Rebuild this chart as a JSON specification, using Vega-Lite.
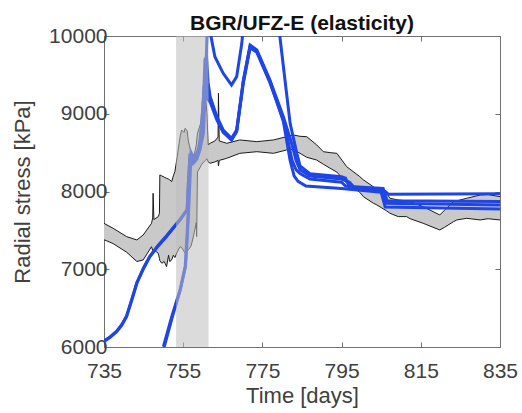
{
  "$schema": "https://vega.github.io/schema/vega-lite/v6.json",
  "width": 396,
  "height": 311,
  "autosize": "none",
  "padding": {"left": 104, "top": 36, "right": 22, "bottom": 66},
  "background": "white",
  "title": {"text": "BGR/UFZ-E (elasticity)", "font": "Liberation Sans", "fontSize": 21, "fontWeight": "bold", "color": "#111111", "offset": -9, "anchor": "middle"},
  "config": {
    "view": {"stroke": "#707070", "strokeWidth": 1},
    "axis": {
      "grid": false,
      "domain": false,
      "tickColor": "#707070",
      "tickSize": -5,
      "labelFlush": false,
      "labelOverlap": false,
      "labelFont": "Liberation Sans",
      "labelFontSize": 21,
      "labelColor": "#404040",
      "titleFont": "Liberation Sans",
      "titleFontSize": 22,
      "titleFontWeight": "normal",
      "titleColor": "#404040"
    }
  },
  "datasets": {
    "env": [
      {"t": 735, "lo": 7380, "hi": 7590},
      {"t": 737.3, "lo": 7330, "hi": 7527},
      {"t": 740.7, "lo": 7220, "hi": 7420},
      {"t": 743.3, "lo": 7100, "hi": 7377},
      {"t": 744.9, "lo": 7120, "hi": 7441},
      {"t": 747.0, "lo": 7290, "hi": 7591},
      {"t": 747.3, "lo": 7240, "hi": 7660},
      {"t": 747.4, "lo": 7240, "hi": 7977},
      {"t": 747.6, "lo": 7250, "hi": 7640},
      {"t": 748.7, "lo": 7205, "hi": 7677},
      {"t": 749.0, "lo": 7140, "hi": 7720},
      {"t": 749.1, "lo": 7110, "hi": 8213},
      {"t": 749.6, "lo": 7077, "hi": 8200},
      {"t": 750.2, "lo": 7100, "hi": 8185},
      {"t": 750.8, "lo": 7033, "hi": 8170},
      {"t": 751.3, "lo": 7180, "hi": 8160},
      {"t": 751.6, "lo": 7100, "hi": 8150},
      {"t": 752.1, "lo": 7120, "hi": 8127},
      {"t": 752.5, "lo": 7180, "hi": 8200},
      {"t": 752.9, "lo": 7150, "hi": 8255},
      {"t": 753.5, "lo": 7220, "hi": 8450},
      {"t": 754.2, "lo": 7290, "hi": 8700},
      {"t": 754.6, "lo": 7280, "hi": 8791},
      {"t": 755.2, "lo": 7230, "hi": 8760},
      {"t": 755.5, "lo": 7205, "hi": 8813},
      {"t": 756.0, "lo": 7230, "hi": 8780},
      {"t": 756.3, "lo": 7250, "hi": 8650},
      {"t": 757.0, "lo": 7300, "hi": 8500},
      {"t": 757.7, "lo": 7450, "hi": 8450},
      {"t": 758.3, "lo": 7600, "hi": 8600},
      {"t": 758.4, "lo": 7420, "hi": 8650},
      {"t": 758.6, "lo": 8250, "hi": 8749},
      {"t": 759.7, "lo": 8350, "hi": 8920},
      {"t": 760.2, "lo": 8380, "hi": 9100},
      {"t": 760.6, "lo": 8400, "hi": 9250},
      {"t": 761.0, "lo": 8420, "hi": 9000},
      {"t": 761.3, "lo": 8380, "hi": 8600},
      {"t": 761.8, "lo": 8363, "hi": 8620},
      {"t": 763.0, "lo": 8380, "hi": 8650},
      {"t": 763.8, "lo": 8400, "hi": 8700},
      {"t": 763.9, "lo": 8330, "hi": 9263},
      {"t": 764.1, "lo": 8400, "hi": 8650},
      {"t": 766.0, "lo": 8427, "hi": 8620},
      {"t": 769.3, "lo": 8491, "hi": 8663},
      {"t": 773.6, "lo": 8512, "hi": 8641},
      {"t": 777.8, "lo": 8491, "hi": 8663},
      {"t": 781.1, "lo": 8534, "hi": 8705},
      {"t": 782.8, "lo": 8540, "hi": 8727},
      {"t": 784.5, "lo": 8491, "hi": 8710},
      {"t": 786.2, "lo": 8440, "hi": 8705},
      {"t": 788.7, "lo": 8405, "hi": 8600},
      {"t": 790.4, "lo": 8350, "hi": 8512},
      {"t": 792.1, "lo": 8299, "hi": 8500},
      {"t": 793.8, "lo": 8250, "hi": 8491},
      {"t": 796.3, "lo": 8106, "hi": 8319},
      {"t": 799.6, "lo": 7990, "hi": 8191},
      {"t": 800.5, "lo": 7934, "hi": 8150},
      {"t": 803.0, "lo": 7850, "hi": 8062},
      {"t": 803.9, "lo": 7827, "hi": 8030},
      {"t": 806.4, "lo": 7750, "hi": 7977},
      {"t": 807.2, "lo": 7720, "hi": 7913},
      {"t": 809.3, "lo": 7677, "hi": 7891},
      {"t": 811.4, "lo": 7677, "hi": 7880},
      {"t": 812.3, "lo": 7650, "hi": 7869},
      {"t": 815.6, "lo": 7591, "hi": 7805},
      {"t": 819.8, "lo": 7505, "hi": 7698},
      {"t": 821.0, "lo": 7540, "hi": 7760},
      {"t": 823.2, "lo": 7610, "hi": 7869},
      {"t": 824.1, "lo": 7634, "hi": 7880},
      {"t": 826.6, "lo": 7655, "hi": 7913},
      {"t": 830.0, "lo": 7634, "hi": 7955},
      {"t": 832.0, "lo": 7650, "hi": 7960},
      {"t": 835.0, "lo": 7634, "hi": 7934}
    ],
    "sim": [
      {"id": "1", "t": 735, "v": 6070},
      {"id": "1", "t": 736.5, "v": 6120},
      {"id": "1", "t": 738.2, "v": 6197},
      {"id": "1", "t": 739.5, "v": 6280},
      {"id": "1", "t": 740.7, "v": 6390},
      {"id": "1", "t": 742.0, "v": 6600},
      {"id": "1", "t": 743.3, "v": 6820},
      {"id": "1", "t": 745.0, "v": 7010},
      {"id": "1", "t": 746.6, "v": 7162},
      {"id": "1", "t": 748.7, "v": 7300},
      {"id": "1", "t": 750.8, "v": 7420},
      {"id": "1", "t": 754.2, "v": 7634},
      {"id": "1", "t": 756.0, "v": 7762},
      {"id": "1", "t": 756.3, "v": 8106},
      {"id": "1", "t": 756.7, "v": 8448},
      {"id": "1", "t": 758.0, "v": 8470},
      {"id": "1", "t": 759.2, "v": 8534},
      {"id": "1", "t": 760.1, "v": 8749},
      {"id": "1", "t": 760.5, "v": 9200},
      {"id": "1", "t": 761.0, "v": 10000},
      {"id": "1", "t": 761.3, "v": 10300},
      {"id": "1", "t": 761.7, "v": 10300},
      {"id": "1", "t": 762.0, "v": 10000},
      {"id": "1", "t": 763.0, "v": 9734},
      {"id": "1", "t": 765.1, "v": 9520},
      {"id": "1", "t": 767.2, "v": 9370},
      {"id": "1", "t": 768.5, "v": 9477},
      {"id": "1", "t": 769.8, "v": 9906},
      {"id": "1", "t": 770.5, "v": 10300},
      {"id": "1", "t": 775.0, "v": 11300},
      {"id": "1", "t": 779.0, "v": 10300},
      {"id": "1", "t": 779.4, "v": 10000},
      {"id": "1", "t": 780.7, "v": 9434},
      {"id": "1", "t": 782.0, "v": 8877},
      {"id": "1", "t": 783.7, "v": 8491},
      {"id": "1", "t": 784.5, "v": 8330},
      {"id": "1", "t": 787.0, "v": 8230},
      {"id": "1", "t": 795.0, "v": 8190},
      {"id": "1", "t": 796.0, "v": 8170},
      {"id": "1", "t": 797.0, "v": 8050},
      {"id": "1", "t": 806.0, "v": 8000},
      {"id": "1", "t": 806.8, "v": 7965},
      {"id": "1", "t": 835.0, "v": 7970},
      {"id": "2", "t": 735, "v": 6080},
      {"id": "2", "t": 736.5, "v": 6130},
      {"id": "2", "t": 738.2, "v": 6205},
      {"id": "2", "t": 739.5, "v": 6290},
      {"id": "2", "t": 740.7, "v": 6400},
      {"id": "2", "t": 742.0, "v": 6610},
      {"id": "2", "t": 743.3, "v": 6830},
      {"id": "2", "t": 745.0, "v": 7020},
      {"id": "2", "t": 746.6, "v": 7170},
      {"id": "2", "t": 748.7, "v": 7310},
      {"id": "2", "t": 750.8, "v": 7430},
      {"id": "2", "t": 754.2, "v": 7640},
      {"id": "2", "t": 756.0, "v": 7770},
      {"id": "2", "t": 756.3, "v": 8106},
      {"id": "2", "t": 756.7, "v": 8448},
      {"id": "2", "t": 757.5, "v": 8360},
      {"id": "2", "t": 758.5, "v": 8420},
      {"id": "2", "t": 759.2, "v": 8550},
      {"id": "2", "t": 760.0, "v": 9000},
      {"id": "2", "t": 760.5, "v": 9700},
      {"id": "2", "t": 760.9, "v": 9730},
      {"id": "2", "t": 761.3, "v": 9400},
      {"id": "2", "t": 761.8, "v": 9220},
      {"id": "2", "t": 763.5, "v": 8962},
      {"id": "2", "t": 765.1, "v": 8791},
      {"id": "2", "t": 767.2, "v": 8684},
      {"id": "2", "t": 768.5, "v": 8791},
      {"id": "2", "t": 770.2, "v": 9434},
      {"id": "2", "t": 771.9, "v": 9884},
      {"id": "2", "t": 773.6, "v": 9820},
      {"id": "2", "t": 776.9, "v": 9434},
      {"id": "2", "t": 780.3, "v": 8962},
      {"id": "2", "t": 782.5, "v": 8600},
      {"id": "2", "t": 783.5, "v": 8400},
      {"id": "2", "t": 784.5, "v": 8280},
      {"id": "2", "t": 787.0, "v": 8200},
      {"id": "2", "t": 795.0, "v": 8160},
      {"id": "2", "t": 797.0, "v": 8120},
      {"id": "2", "t": 798.0, "v": 8060},
      {"id": "2", "t": 805.5, "v": 8040},
      {"id": "2", "t": 806.5, "v": 7880},
      {"id": "2", "t": 835.0, "v": 7870},
      {"id": "3", "t": 750.0, "v": 6004},
      {"id": "3", "t": 752.1, "v": 6390},
      {"id": "3", "t": 754.2, "v": 6733},
      {"id": "3", "t": 755.5, "v": 7033},
      {"id": "3", "t": 756.0, "v": 7463},
      {"id": "3", "t": 756.3, "v": 7762},
      {"id": "3", "t": 756.7, "v": 8448},
      {"id": "3", "t": 757.5, "v": 8400},
      {"id": "3", "t": 758.5, "v": 8480},
      {"id": "3", "t": 759.5, "v": 8700},
      {"id": "3", "t": 760.2, "v": 9300},
      {"id": "3", "t": 760.6, "v": 9500},
      {"id": "3", "t": 761.0, "v": 9200},
      {"id": "3", "t": 761.8, "v": 9150},
      {"id": "3", "t": 763.5, "v": 8920},
      {"id": "3", "t": 765.1, "v": 8760},
      {"id": "3", "t": 767.2, "v": 8660},
      {"id": "3", "t": 768.5, "v": 8770},
      {"id": "3", "t": 770.2, "v": 9400},
      {"id": "3", "t": 771.9, "v": 9850},
      {"id": "3", "t": 773.6, "v": 9790},
      {"id": "3", "t": 776.9, "v": 9400},
      {"id": "3", "t": 780.3, "v": 8920},
      {"id": "3", "t": 782.5, "v": 8400},
      {"id": "3", "t": 783.5, "v": 8280},
      {"id": "3", "t": 784.5, "v": 8230},
      {"id": "3", "t": 787.0, "v": 8160},
      {"id": "3", "t": 795.0, "v": 8120},
      {"id": "3", "t": 796.0, "v": 8070},
      {"id": "3", "t": 805.0, "v": 8020},
      {"id": "3", "t": 806.0, "v": 7850},
      {"id": "3", "t": 835.0, "v": 7825},
      {"id": "4", "t": 750.2, "v": 6000},
      {"id": "4", "t": 752.3, "v": 6395},
      {"id": "4", "t": 754.3, "v": 6740},
      {"id": "4", "t": 755.6, "v": 7040},
      {"id": "4", "t": 756.1, "v": 7470},
      {"id": "4", "t": 756.5, "v": 7900},
      {"id": "4", "t": 757.0, "v": 8500},
      {"id": "4", "t": 758.0, "v": 8400},
      {"id": "4", "t": 759.0, "v": 8500},
      {"id": "4", "t": 760.0, "v": 9100},
      {"id": "4", "t": 760.7, "v": 9600},
      {"id": "4", "t": 761.2, "v": 9300},
      {"id": "4", "t": 761.8, "v": 9200},
      {"id": "4", "t": 763.5, "v": 8940},
      {"id": "4", "t": 765.1, "v": 8775},
      {"id": "4", "t": 767.2, "v": 8670},
      {"id": "4", "t": 768.5, "v": 8780},
      {"id": "4", "t": 770.2, "v": 9420},
      {"id": "4", "t": 771.9, "v": 9870},
      {"id": "4", "t": 773.6, "v": 9805},
      {"id": "4", "t": 776.9, "v": 9420},
      {"id": "4", "t": 780.3, "v": 8900},
      {"id": "4", "t": 782.0, "v": 8400},
      {"id": "4", "t": 783.0, "v": 8200},
      {"id": "4", "t": 784.0, "v": 8130},
      {"id": "4", "t": 786.0, "v": 8070},
      {"id": "4", "t": 795.0, "v": 8040},
      {"id": "4", "t": 805.0, "v": 7990},
      {"id": "4", "t": 806.0, "v": 7800},
      {"id": "4", "t": 835.0, "v": 7775}
    ],
    "band": [{"t0": 753.2, "t1": 761.4, "ytop": 10000, "ybot": 6000}]
  },
  "resolve": {"axis": {"x": "independent", "y": "independent"}},
  "layer": [
    {
      "data": {"name": "env"},
      "mark": {"type": "area", "color": "#c9c9c9", "clip": true},
      "encoding": {
        "x": {"field": "t", "type": "quantitative", "scale": {"domain": [735, 835], "nice": false},
              "axis": {"orient": "bottom", "values": [735, 755, 775, 795, 815, 835], "format": "d", "title": "Time [days]", "labelPadding": 18, "titlePadding": 4}},
        "y": {"field": "hi", "type": "quantitative", "scale": {"domain": [6000, 10000], "nice": false},
              "axis": {"orient": "left", "values": [6000, 7000, 8000, 9000, 10000], "format": "d", "title": "Radial stress [kPa]", "labelPadding": 2, "titlePadding": 14}},
        "y2": {"field": "lo"}
      }
    },
    {
      "data": {"name": "env"},
      "mark": {"type": "line", "color": "#1a1a1a", "strokeWidth": 1, "clip": true},
      "encoding": {
        "x": {"field": "t", "type": "quantitative", "axis": null},
        "y": {"field": "hi", "type": "quantitative", "axis": null}
      }
    },
    {
      "data": {"name": "env"},
      "mark": {"type": "line", "color": "#1a1a1a", "strokeWidth": 1, "clip": true},
      "encoding": {
        "x": {"field": "t", "type": "quantitative", "axis": null},
        "y": {"field": "lo", "type": "quantitative", "axis": null}
      }
    },
    {
      "data": {"name": "sim"},
      "mark": {"type": "line", "color": "#1f45e6", "strokeWidth": 3, "clip": true},
      "encoding": {
        "x": {"field": "t", "type": "quantitative", "axis": null},
        "y": {"field": "v", "type": "quantitative", "axis": null},
        "detail": {"field": "id", "type": "nominal"}
      }
    },
    {
      "data": {"name": "band"},
      "mark": {"type": "rect", "color": "#bdbdbd", "opacity": 0.55},
      "encoding": {
        "x": {"field": "t0", "type": "quantitative",
              "axis": {"orient": "top", "values": [735, 755, 775, 795, 815, 835], "labels": false, "title": null}},
        "x2": {"field": "t1"},
        "y": {"field": "ytop", "type": "quantitative",
              "axis": {"orient": "right", "values": [6000, 7000, 8000, 9000, 10000], "labels": false, "title": null}},
        "y2": {"field": "ybot"}
      }
    }
  ]
}
